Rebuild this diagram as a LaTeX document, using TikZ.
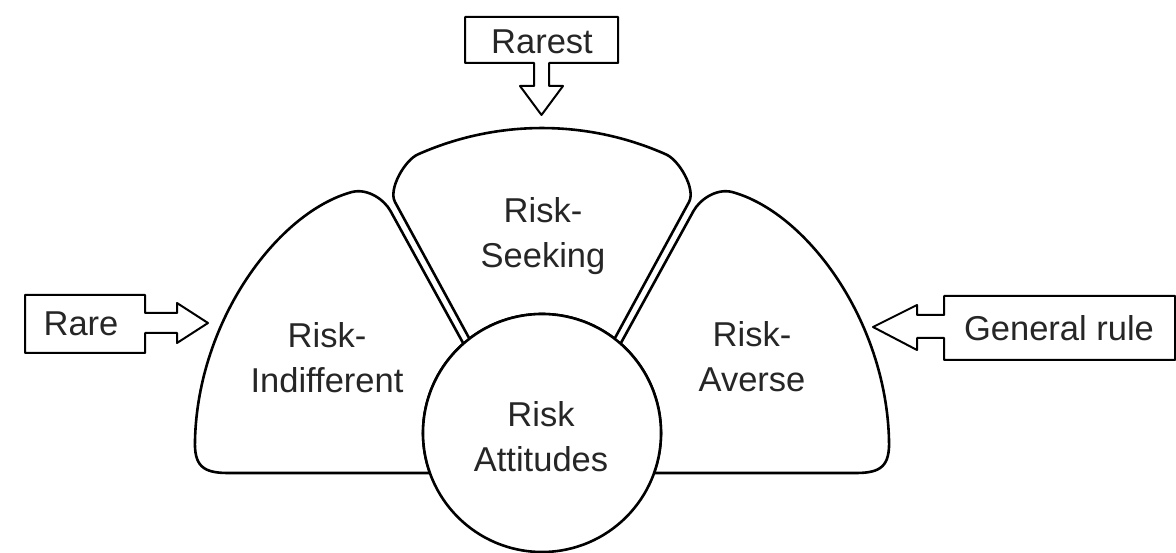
\documentclass[tikz,border=0pt]{standalone}
\usepackage{fontspec}
\setmainfont{Liberation Sans}
\begin{document}
\begin{tikzpicture}[x=1pt,y=-1pt,line join=round,
  petal/.style={draw=black,line width=2.6pt,fill=white},
  callout/.style={draw=black,line width=2pt,fill=white},
  lbl/.style={font=\fontsize{34.5}{45}\selectfont,align=center,inner sep=0pt,text=black!85}]
\useasboundingbox (0,0) rectangle (1176,553);

% left petal (and mirrored right petal)
\newcommand{\sidepetal}{%
  \path[petal] (463.4,343.6) -- (390.5,211)
    .. controls (384.5,200) and (368,188) .. (352,192)
    .. controls (278,212) and (198,320) .. (195,440)
    .. controls (194,466) and (203,473) .. (228,473)
    -- (430,473) arc[start angle=160.3,end angle=228.7,radius=119] -- cycle;}
\sidepetal
\begin{scope}[shift={(1084,0)},xscale=-1]
  \sidepetal
\end{scope}

% top petal
\path[petal] (469.4,338.7) -- (395,202)
  .. controls (388,189) and (405,160) .. (417.9,154.4)
  arc[start angle=246,end angle=294,radius=305]
  .. controls (679,160) and (696,189) .. (689,202)
  -- (614.6,338.7) arc[start angle=307.6,end angle=232.4,radius=119] -- cycle;

% centre circle
\node[circle,draw=black,line width=2.6pt,fill=white,minimum size=238pt,inner sep=0pt] (att) at (542,433) {};
\node[lbl] (attT) at (541,437) {Risk\\Attitudes};

\node[lbl] (seek) at (543,236) {Risk-\\Seeking};
\node[lbl] (indiff) at (327,358) {Risk-\\Indifferent};
\node[lbl] (averse) at (752,357) {Risk-\\Averse};

% callouts
\path[callout] (465,17) -- (618,17) -- (618,63) -- (549,63) -- (549,86) -- (563,86)
  -- (541.5,115) -- (520,86) -- (534,86) -- (534,63) -- (465,63) -- cycle;
\node[lbl] (rarest) at (542,42) {Rarest};

\path[callout] (25,295) -- (145,295) -- (145,313) -- (177,313) -- (177,303)
  -- (208,323) -- (177,343) -- (177,333) -- (145,333) -- (145,353) -- (25,353) -- cycle;
\node[lbl] (rare) at (81,324) {Rare};

\path[callout] (1175,296) -- (944,296) -- (944,315) -- (917,315) -- (917,305)
  -- (873,327) -- (917,350) -- (917,338) -- (944,338) -- (944,360) -- (1175,360) -- cycle;
\node[lbl] (gen) at (1059,328) {General rule};
\end{tikzpicture}
\end{document}
